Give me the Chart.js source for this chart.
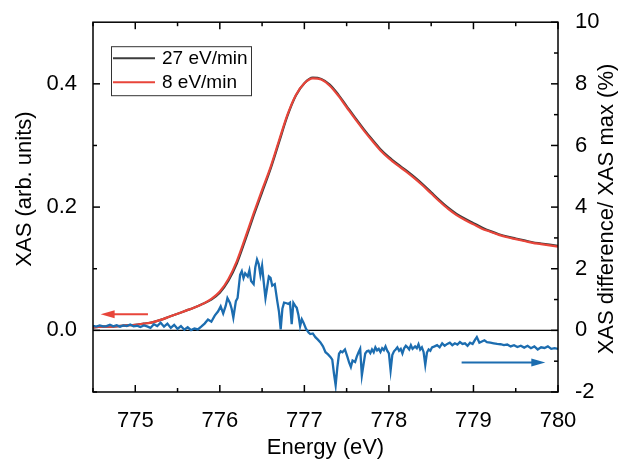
<!DOCTYPE html>
<html>
<head>
<meta charset="utf-8">
<script src="https://cdn.jsdelivr.net/npm/chart.js@4.4.1/dist/chart.umd.min.js"></script>
<style>
  html, body { margin: 0; padding: 0; background: #fff; }
</style>
</head>
<body>
<canvas id="xas" width="621" height="459"></canvas>
<script>
const energy = [
  774.5, 774.6, 774.7, 774.8, 774.9, 775.0, 775.1, 775.2, 775.3, 775.4,
  775.5, 775.6, 775.7, 775.8, 775.9, 776.0, 776.1, 776.2, 776.3, 776.4,
  776.5, 776.6, 776.7, 776.8, 776.9, 777.0, 777.1, 777.2, 777.3, 777.4,
  777.5, 777.6, 777.7, 777.8, 777.9, 778.0, 778.1, 778.2, 778.3, 778.4,
  778.5, 778.6, 778.7, 778.8, 778.9, 779.0, 779.1, 779.2, 779.3, 779.4,
  779.5, 779.6, 779.7, 779.8, 779.9, 780.0
];
// 8 eV/min scan (red)
const xasSlow = [
  0.005, 0.006, 0.006, 0.007, 0.008, 0.009, 0.011, 0.013, 0.017, 0.022,
  0.027, 0.032, 0.037, 0.043, 0.051, 0.063, 0.083, 0.112, 0.150, 0.190,
  0.228, 0.265, 0.308, 0.350, 0.382, 0.401, 0.409, 0.407, 0.397, 0.381,
  0.362, 0.343, 0.325, 0.308, 0.292, 0.279, 0.268, 0.258, 0.247, 0.235,
  0.222, 0.209, 0.197, 0.187, 0.179, 0.172, 0.165, 0.160, 0.155, 0.151,
  0.148, 0.145, 0.142, 0.140, 0.138, 0.136
];
// 27 eV/min scan (dark grey)
const xasFast = [
  0.005, 0.006, 0.006, 0.007, 0.008, 0.009, 0.011, 0.013, 0.017, 0.022,
  0.027, 0.032, 0.037, 0.043, 0.050, 0.061, 0.080, 0.108, 0.146, 0.186,
  0.224, 0.262, 0.305, 0.348, 0.381, 0.401, 0.410, 0.408, 0.399, 0.383,
  0.364, 0.345, 0.327, 0.310, 0.294, 0.281, 0.270, 0.260, 0.249, 0.237,
  0.224, 0.211, 0.199, 0.189, 0.181, 0.174, 0.167, 0.161, 0.156, 0.152,
  0.149, 0.146, 0.143, 0.141, 0.139, 0.137
];

// difference / max in % (blue, right axis)
const diffEnergy = [
  774.50, 774.54, 774.58, 774.62, 774.66, 774.70, 774.74, 774.78, 774.82, 774.86,
  774.90, 774.94, 774.98, 775.02, 775.06, 775.10, 775.14, 775.18, 775.22, 775.26,
  775.30, 775.34, 775.38, 775.42, 775.46, 775.50, 775.54, 775.58, 775.62, 775.66,
  775.70, 775.74, 775.78, 775.82, 775.86, 775.90, 775.94, 775.98, 776.01, 776.04,
  776.07, 776.09, 776.12, 776.14, 776.16, 776.19, 776.21, 776.24, 776.26, 776.28,
  776.30, 776.33, 776.35, 776.37, 776.40, 776.42, 776.44, 776.46, 776.48, 776.50,
  776.52, 776.54, 776.56, 776.58, 776.60, 776.62, 776.65, 776.68, 776.70, 776.72,
  776.74, 776.76, 776.79, 776.81, 776.83, 776.85, 776.87, 776.89, 776.91, 776.93,
  776.95, 776.97, 776.99, 777.02, 777.05, 777.07, 777.10, 777.13, 777.16, 777.19,
  777.22, 777.25, 777.28, 777.31, 777.33, 777.35, 777.37, 777.39, 777.41, 777.43,
  777.45, 777.48, 777.51, 777.53, 777.55, 777.57, 777.60, 777.62, 777.64, 777.66,
  777.68, 777.70, 777.72, 777.74, 777.76, 777.78, 777.80, 777.82, 777.84, 777.86,
  777.88, 777.90, 777.92, 777.94, 777.96, 777.98, 778.00, 778.02, 778.04, 778.06,
  778.08, 778.10, 778.12, 778.14, 778.16, 778.18, 778.20, 778.22, 778.24, 778.26,
  778.28, 778.31, 778.33, 778.35, 778.37, 778.39, 778.41, 778.43, 778.45, 778.47,
  778.49, 778.51, 778.54, 778.57, 778.60, 778.63, 778.66, 778.69, 778.72, 778.75,
  778.78, 778.81, 778.84, 778.87, 778.90, 778.93, 778.96, 778.99, 779.02, 779.04,
  779.07, 779.10, 779.13, 779.16, 779.20, 779.24, 779.28, 779.32, 779.36, 779.40,
  779.44, 779.48, 779.52, 779.56, 779.60, 779.64, 779.68, 779.72, 779.76, 779.80,
  779.84, 779.88, 779.92, 779.96, 780.00
];
const diffPct = [
  0.15, 0.12, 0.16, 0.13, 0.14, 0.18, 0.13, 0.17, 0.12, 0.16,
  0.14, 0.19, 0.13, 0.15, 0.11, 0.16, 0.13, 0.08, 0.20, 0.14,
  0.25, 0.12, 0.22, 0.08, 0.18, 0.05, 0.14, 0.02, 0.10, 0.01,
  0.06, 0.03, 0.12, 0.22, 0.35, 0.28, 0.48, 0.62, 0.78, 0.55,
  0.80, 1.05, 0.89, 0.70, 0.41, 0.95, 1.05, 1.80, 1.92, 1.70,
  1.85, 1.75, 1.95, 1.60, 1.50, 2.05, 2.30, 2.15, 1.80, 2.10,
  1.55, 1.05, 1.40, 1.75, 1.70, 1.45, 1.50, 0.94, 0.60, 0.03,
  0.70, 0.90, 0.88, 0.86, 0.90, 0.20, 0.89, 0.80, 0.73, 0.50,
  0.14, 0.36, 0.25, 0.05, -0.07, -0.12, -0.10, -0.22, -0.30, -0.39,
  -0.52, -0.71, -0.78, -0.87, -0.95, -1.40, -1.78, -1.20, -0.76, -0.68,
  -0.71, -0.62, -0.87, -1.05, -1.19, -0.98, -1.03, -0.85, -0.72, -0.60,
  -1.46, -1.10, -0.75, -0.68, -0.66, -0.74, -0.62, -0.71, -0.55, -0.65,
  -0.60, -0.70, -0.58, -0.64, -0.52, -0.66, -0.75, -1.30, -0.80, -0.68,
  -0.62, -0.55, -0.66, -0.60, -0.75, -0.58, -0.50, -0.55, -0.62, -0.48,
  -0.60, -0.52, -0.58, -0.45, -0.62, -0.55, -0.70, -1.12, -0.72, -0.62,
  -0.66, -0.55, -0.52, -0.48, -0.55, -0.42, -0.50, -0.44, -0.40, -0.48,
  -0.42, -0.46, -0.38, -0.44, -0.42, -0.50, -0.40, -0.44, -0.30, -0.22,
  -0.40, -0.36, -0.32, -0.38, -0.40, -0.42, -0.44, -0.45, -0.48, -0.46,
  -0.52, -0.48, -0.54, -0.50, -0.56, -0.50, -0.58, -0.52, -0.62, -0.55,
  -0.57, -0.52, -0.60, -0.58, -0.60
];

// axis ticks
const xTicks = [775, 776, 777, 778, 779, 780];
const xMinor = [774.5, 775.5, 776.5, 777.5, 778.5, 779.5];
const leftTicks = [0, 0.2, 0.4];
const leftMinor = [-0.1, 0.1, 0.3];
const rightTicks = [-2, 0, 2, 4, 6, 8, 10];
const rightMinor = [-1, 1, 3, 5, 7, 9];

// arrows (which axis each curve belongs to), in data units
const leftArrow = { from: 775.15, to: 774.59, value: 0.026 };
const rightArrow = { from: 778.86, to: 779.85, value: -1.04 };

const RED = "#e8453a";
const GREY = "#3c3c3c";
const BLUE = "#1c6db0";
const FONT = "'Liberation Sans', Arial, sans-serif";

const toPoints = (xs, ys) => xs.map((x, i) => ({ x, y: ys[i] }));

// draws frame, inward ticks, zero line, arrows, legend box and titles
const decorations = {
  id: "decorations",
  beforeDatasetsDraw(chart) {
    const { ctx, chartArea: a, scales: { y } } = chart;
    const py = y.getPixelForValue(0);
    ctx.save();
    ctx.strokeStyle = "#000";
    ctx.lineWidth = 1.3;
    ctx.beginPath();
    ctx.moveTo(a.left, py);
    ctx.lineTo(a.right, py);
    ctx.stroke();
    ctx.restore();
  },
  afterDraw(chart) {
    const { ctx, chartArea: a, scales: { x, y, y2 } } = chart;
    ctx.save();
    ctx.strokeStyle = "#000";
    ctx.lineWidth = 1.5;
    ctx.strokeRect(a.left, a.top, a.right - a.left, a.bottom - a.top);

    const seg = (x1, y1, x2, y2_) => {
      ctx.beginPath(); ctx.moveTo(x1, y1); ctx.lineTo(x2, y2_); ctx.stroke();
    };
    xTicks.forEach(v => {
      const p = x.getPixelForValue(v);
      seg(p, a.bottom, p, a.bottom - 7);
      seg(p, a.top, p, a.top + 7);
    });
    xMinor.forEach(v => {
      const p = x.getPixelForValue(v);
      seg(p, a.bottom, p, a.bottom - 4);
      seg(p, a.top, p, a.top + 4);
    });
    leftTicks.forEach(v => { const p = y.getPixelForValue(v); seg(a.left, p, a.left + 7, p); });
    leftMinor.forEach(v => { const p = y.getPixelForValue(v); seg(a.left, p, a.left + 4, p); });
    rightTicks.forEach(v => { const p = y2.getPixelForValue(v); seg(a.right, p, a.right - 7, p); });
    rightMinor.forEach(v => { const p = y2.getPixelForValue(v); seg(a.right, p, a.right - 4, p); });

    // arrows
    const arrow = (arr, scale, color) => {
      const x1 = x.getPixelForValue(arr.from);
      const x2 = x.getPixelForValue(arr.to);
      const py = scale.getPixelForValue(arr.value);
      const dir = Math.sign(x2 - x1);
      ctx.strokeStyle = color;
      ctx.fillStyle = color;
      ctx.lineWidth = 2;
      seg(x1, py, x2 - dir * 10, py);
      ctx.beginPath();
      ctx.moveTo(x2, py);
      ctx.lineTo(x2 - dir * 14, py - 4);
      ctx.lineTo(x2 - dir * 14, py + 4);
      ctx.closePath();
      ctx.fill();
    };
    arrow(leftArrow, y, RED);
    arrow(rightArrow, y2, BLUE);

    // legend
    const lx = a.left + 18, ly = a.top + 24;
    ctx.strokeStyle = "#333";
    ctx.lineWidth = 1;
    ctx.strokeRect(lx + 0.5, ly + 0.5, 140, 49);
    const rows = [["27 eV/min", GREY], ["8 eV/min", RED]];
    ctx.font = "19px " + FONT;
    ctx.textBaseline = "middle";
    ctx.textAlign = "left";
    rows.forEach(([label, color], i) => {
      const ry = ly + 12 + i * 24;
      ctx.strokeStyle = color;
      ctx.lineWidth = 2;
      seg(lx + 2, ry, lx + 44, ry);
      ctx.fillStyle = "#000";
      ctx.fillText(label, lx + 51, ry + 1);
    });

    // axis titles
    ctx.fillStyle = "#000";
    ctx.font = "22px " + FONT;
    ctx.textAlign = "center";
    ctx.textBaseline = "middle";
    ctx.fillText("Energy (eV)", (a.left + a.right) / 2, 448);
    ctx.save();
    ctx.translate(25, 189);
    ctx.rotate(-Math.PI / 2);
    ctx.fillText("XAS (arb. units)", 0, 0);
    ctx.restore();
    ctx.save();
    ctx.translate(607, 209);
    ctx.rotate(-Math.PI / 2);
    ctx.fillText("XAS difference/ XAS max (%)", 0, 0);
    ctx.restore();
    ctx.restore();
  }
};

const tickFont = { family: FONT, size: 22 };

new Chart(document.getElementById("xas"), {
  type: "line",
  data: {
    datasets: [
      {
        label: "27 eV/min",
        data: toPoints(energy, xasFast),
        borderColor: GREY,
        borderWidth: 2.2,
        pointRadius: 0,
        cubicInterpolationMode: "monotone",
        yAxisID: "y",
        order: 3
      },
      {
        label: "8 eV/min",
        data: toPoints(energy, xasSlow),
        borderColor: RED,
        borderWidth: 2.2,
        pointRadius: 0,
        cubicInterpolationMode: "monotone",
        yAxisID: "y",
        order: 2
      },
      {
        label: "difference",
        data: toPoints(diffEnergy, diffPct),
        borderColor: BLUE,
        borderWidth: 2.3,
        pointRadius: 0,
        tension: 0,
        yAxisID: "y2",
        order: 1
      }
    ]
  },
  options: {
    responsive: false,
    animation: false,
    devicePixelRatio: 1,
    layout: { padding: { top: 17, left: 0, right: 0, bottom: 0 } },
    plugins: { legend: { display: false }, tooltip: { enabled: false } },
    scales: {
      x: {
        type: "linear",
        position: "bottom",
        min: 774.5,
        max: 780,
        afterBuildTicks: s => { s.ticks = xTicks.map(value => ({ value })); },
        afterFit: s => { s.height = 67; },
        grid: { display: false },
        border: { display: false },
        ticks: { font: tickFont, color: "#000", padding: 8, autoSkip: false, maxRotation: 0,
                 callback: v => String(v) }
      },
      y: {
        position: "left",
        min: -0.1,
        max: 0.5,
        afterBuildTicks: s => { s.ticks = leftTicks.map(value => ({ value })); },
        afterFit: s => { s.width = 93; },
        grid: { display: false },
        border: { display: false },
        ticks: { font: tickFont, color: "#000", padding: 8, callback: v => v.toFixed(1) }
      },
      y2: {
        position: "right",
        min: -2,
        max: 10,
        afterBuildTicks: s => { s.ticks = rightTicks.map(value => ({ value })); },
        afterFit: s => { s.width = 63; },
        grid: { display: false },
        border: { display: false },
        ticks: { font: tickFont, color: "#000", padding: 9, callback: v => String(v) }
      }
    }
  },
  plugins: [decorations]
});
</script>
</body>
</html>
